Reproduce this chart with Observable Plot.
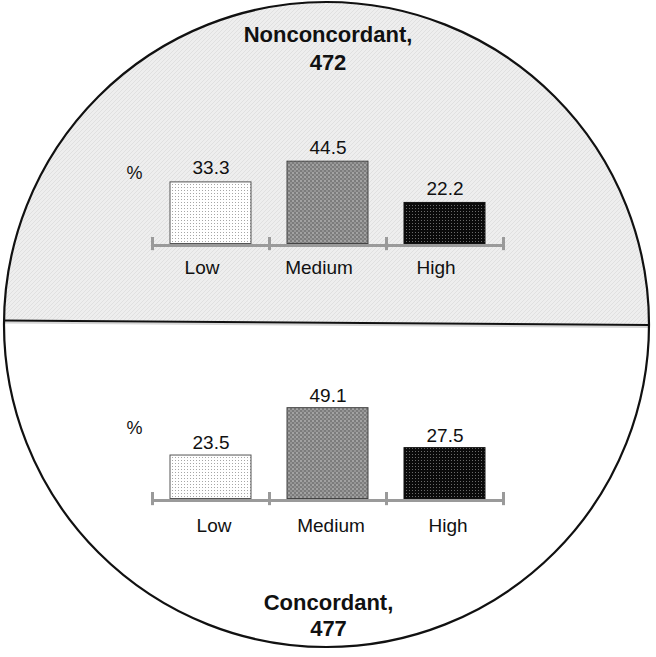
<!DOCTYPE html>
<html>
<head>
<meta charset="utf-8">
<script src="https://cdn.jsdelivr.net/npm/d3@7"></script>
<script src="https://cdn.jsdelivr.net/npm/@observablehq/plot@0.6"></script>
<style>
  html, body { margin: 0; padding: 0; background: white; }
  #wrap { position: relative; width: 656px; height: 657px; font-family: "Liberation Sans", Arial, Helvetica, sans-serif; }
  #wrap svg.layer { position: absolute; left: 0; top: 0; }
</style>
</head>
<body>
<div id="wrap">
  <svg width="0" height="0" style="position:absolute">
    <defs>
      <pattern id="pBg" width="4" height="4" patternUnits="userSpaceOnUse">
        <rect width="4" height="4" fill="#eeeeee"/>
        <path d="M0 4 L4 0 M-1 1 L1 -1 M3 5 L5 3" stroke="#e0e0e0" stroke-width="1"/>
      </pattern>
      <pattern id="pLow" width="3" height="3" patternUnits="userSpaceOnUse">
        <rect width="3" height="3" fill="#ffffff"/>
        <rect x="1" y="1" width="1" height="1" fill="#a6a6a6"/>
      </pattern>
      <pattern id="pMed" width="4" height="4" patternUnits="userSpaceOnUse">
        <rect width="4" height="4" fill="#7c7c7c"/>
        <rect x="0" y="0" width="2" height="2" fill="#a2a2a2"/>
        <rect x="2" y="2" width="2" height="2" fill="#959595"/>
      </pattern>
      <pattern id="pHigh" width="3" height="3" patternUnits="userSpaceOnUse">
        <rect width="3" height="3" fill="#0a0a0a"/>
        <rect x="1" y="1" width="1" height="1" fill="#6a6a6a"/>
      </pattern>
    </defs>
  </svg>
</div>
<script>
// ---- data ----
const categories = ["Low", "Medium", "High"];
const nonconcordantValues = [33.3, 44.5, 22.2];
const concordantValues = [23.5, 49.1, 27.5];
const groupTitles = ["Nonconcordant,\n472", "Concordant,\n477"];
const valueLabels = (vals) => vals.map(v => v.toFixed(1));

// ---- styling / layout ----
const W = 656, H = 657;
const font = "Liberation Sans, Arial, Helvetica, sans-serif";
const fills = {Low: "url(#pLow)", Medium: "url(#pMed)", High: "url(#pHigh)"};
const strokes = {Low: "#555", Medium: "#444", High: "#111"};
const layout = {
  cx: 326.5, cy: 324.5, r: 322.5,
  divLeft: 320.5, divRight: 325,
  plotLeft: 152, plotRight: 503
};
const wrap = document.getElementById("wrap");

// ---- background (circle split in two) ----
const background = Plot.plot({
  width: W, height: H,
  margin: 0,
  x: {domain: [0, W], range: [0, W], axis: null},
  y: {domain: [0, H], range: [0, H], axis: null},
  style: {background: "transparent", fontFamily: font},
  marks: [
    () => {
      const g = d3.create("svg:g");
      const id = "circClip";
      g.append("clipPath").attr("id", id)
        .append("circle").attr("cx", layout.cx).attr("cy", layout.cy).attr("r", layout.r);
      g.append("circle").attr("cx", layout.cx).attr("cy", layout.cy).attr("r", layout.r).attr("fill", "white");
      g.append("path")
        .attr("d", `M0,0H${W}V${layout.divRight}L0,${layout.divLeft}Z`)
        .attr("fill", "url(#pBg)")
        .attr("clip-path", `url(#${id})`);
      g.append("path")
        .attr("d", `M0,${layout.divLeft + 2}L${W},${layout.divRight + 2}`)
        .attr("stroke", "#d6d6d6").attr("stroke-width", 2).attr("fill", "none")
        .attr("clip-path", `url(#${id})`);
      g.append("path")
        .attr("d", `M0,${layout.divLeft}L${W},${layout.divRight}`)
        .attr("stroke", "#111").attr("stroke-width", 2).attr("fill", "none")
        .attr("clip-path", `url(#${id})`);
      g.append("circle").attr("cx", layout.cx).attr("cy", layout.cy).attr("r", layout.r)
        .attr("fill", "none").attr("stroke", "#111").attr("stroke-width", 2.2);
      return g.node();
    },
    Plot.text([groupTitles[0]], {x: 327.5, y: 47, text: d => d, fontSize: 22, fontWeight: "bold", lineHeight: 1.27, fill: "#111"}),
    Plot.text([groupTitles[1]], {x: 328, y: 614, text: d => d, fontSize: 22, fontWeight: "bold", lineHeight: 1.2, fill: "#111"})
  ]
});
background.classList.add("layer");
wrap.appendChild(background);

// ---- bar panels ----
function panel(values, opts) {
  const data = categories.map((c, i) => ({cat: c, value: values[i], label: valueLabels(values)[i]}));
  const step = (layout.plotRight - layout.plotLeft) / categories.length;
  return Plot.plot({
    width: W, height: H,
    marginLeft: layout.plotLeft, marginRight: W - layout.plotRight,
    marginTop: 0, marginBottom: 0,
    style: {background: "transparent", fontFamily: font, fontSize: "19px", overflow: "visible"},
    x: {domain: categories, type: "band", paddingInner: 0.31, paddingOuter: 0.155, axis: null},
    y: {domain: [0, 50], range: opts.yRange, axis: null},
    color: {type: "identity"},
    marks: [
      Plot.ruleY([0], {stroke: "#9a9a9a", strokeWidth: 3, dy: 1.5}),
      Plot.ruleX(categories, {x: d => d, y1: -3.6, y2: 3.5, dx: -step / 2, stroke: "#9a9a9a", strokeWidth: 3}),
      Plot.ruleX(categories.slice(-1), {x: d => d, y1: -3.6, y2: 3.5, dx: step / 2, stroke: "#9a9a9a", strokeWidth: 3}),
      Plot.barY(data, {x: "cat", y: "value", fill: d => fills[d.cat], stroke: d => strokes[d.cat], strokeWidth: 1}),
      Plot.text(data, {x: "cat", y: "value", text: "label", dy: opts.valueDy, fontSize: 19, fill: "#111"}),
      Plot.text(data, {x: "cat", y: 0, text: "cat", dy: opts.catDy, dx: opts.catDx, fontSize: 19, fill: "#111"}),
      Plot.text(["%"], {frameAnchor: "left", y: 38.5, dx: -18, textAnchor: "middle", text: d => d, fontSize: 18, fill: "#111"})
    ]
  });
}

const topPanel = panel(nonconcordantValues, {yRange: [243.5, 151], valueDy: -14, catDy: 24, catDx: -9});
topPanel.classList.add("layer");
wrap.appendChild(topPanel);

const bottomPanel = panel(concordantValues, {yRange: [498.5, 406], valueDy: -12.5, catDy: 27, catDx: 3});
bottomPanel.classList.add("layer");
wrap.appendChild(bottomPanel);
</script>
</body>
</html>
